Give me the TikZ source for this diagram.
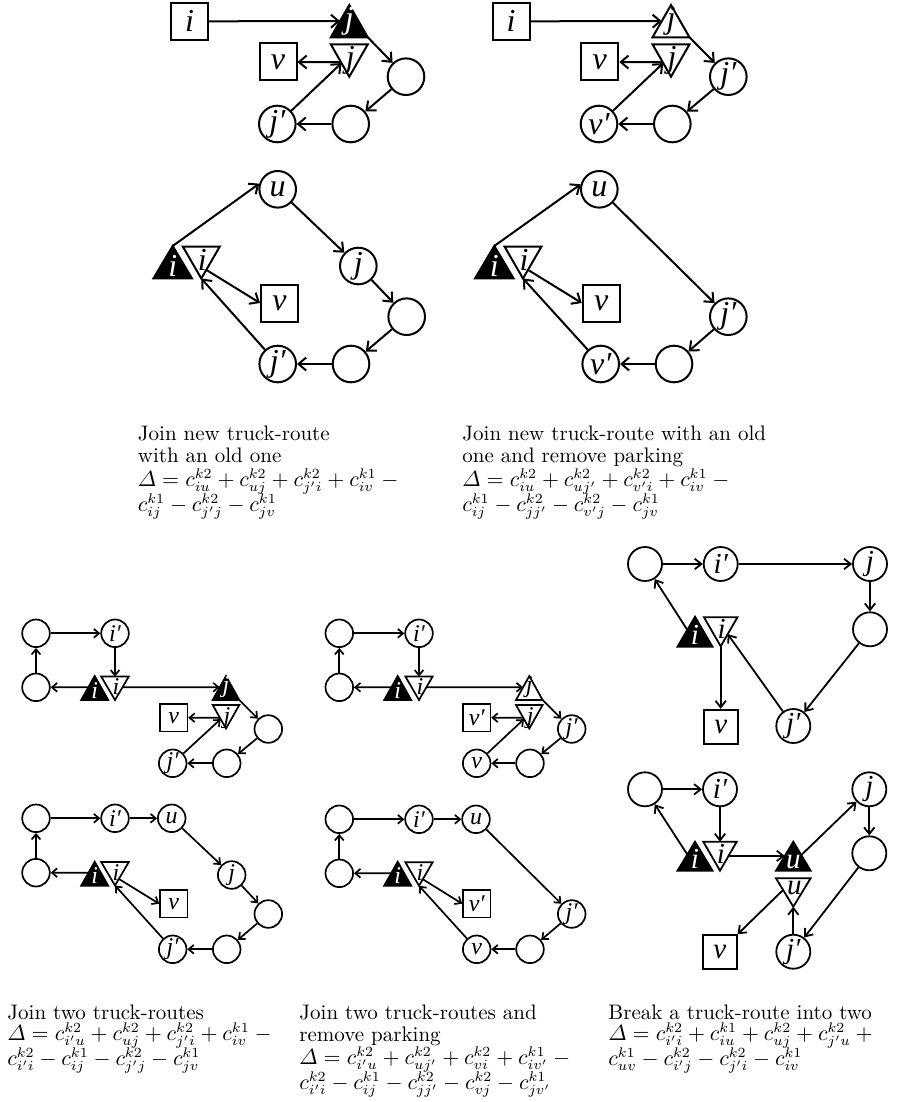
\documentclass[tikz,border=0pt]{standalone}
\usepackage{amsmath}
\usepackage{fontspec}
\usetikzlibrary{arrows.meta,calc}
\newfontfamily\tnr{Liberation Serif}
\newcommand\uptri[8]{%
  \coordinate (#1-t) at (#2,#3);
  \coordinate (#1-l) at (#2-#4,#3+#5);
  \coordinate (#1-r) at (#2+#4,#3+#5);
  \filldraw[#6] (#1-t) -- (#1-l) -- (#1-r) -- cycle;
  \node[anchor=south,#7] (#1) at (#2,#3+#5-1.5) {#8};}
\newcommand\dntri[8]{%
  \coordinate (#1-l) at (#2-#4,#3);
  \coordinate (#1-r) at (#2+#4,#3);
  \coordinate (#1-b) at (#2,#3+#5);
  \coordinate (#1-m) at (#2,#3);
  \filldraw[#6] (#1-l) -- (#1-r) -- (#1-b) -- cycle;
  \node[anchor=north,#7] (#1) at (#2+1,#3+2) {#8};}
\tikzset{
  every node/.style={inner sep=0pt},
  lbB/.style={font=\tnr\itshape\fontsize{16}{16}\selectfont},
  lbM/.style={font=\tnr\itshape\fontsize{14.5}{14.5}\selectfont},
  lbS/.style={font=\tnr\itshape\fontsize{12}{12}\selectfont},
  bc/.style={circle, draw, line width=1pt, minimum size=18.3pt, lbB},
  bs/.style={rectangle, draw, line width=1pt, minimum size=18.5pt, lbB},
  mc/.style={circle, draw, line width=0.9pt, minimum size=17pt, lbM},
  ms/.style={rectangle, draw, line width=0.9pt, minimum size=17pt, lbM},
  sc/.style={circle, draw, line width=0.85pt, minimum size=13.8pt, lbS},
  ss/.style={rectangle, draw, line width=0.85pt, minimum size=13.7pt, lbS},
  bk/.style={fill=black, draw=black, line width=1pt},
  wt/.style={fill=white, draw=black, line width=1pt},
  arr/.style={line width=1pt, -{Straight Barb[length=3.8pt,width=6.5pt]}},
  marr/.style={line width=0.9pt, -{Straight Barb[length=3.3pt,width=5.2pt]}},
  sarr/.style={line width=0.85pt, -{Straight Barb[length=2.6pt,width=4.4pt]}},
  captxt/.style={anchor=base west, inner sep=0pt, font=\fontsize{10.5}{11}\selectfont},
}
\begin{document}
\begin{tikzpicture}[x=0.5pt,y=-0.5pt]
\useasboundingbox (0,0) rectangle (899,1102);

% ---------- Panel 1, top ----------
\node[bs] (a1sq) at (189.5,21.3) {i};
\uptri{a1J}{349.3}{5}{18.5}{32.3}{bk}{lbB,text=white}{j}
\dntri{a1j}{349.3}{44.3}{18.5}{32.4}{wt}{lbB}{j}
\node[bs] (a1v) at (278,62) {v};
\node[bc] (a1c1) at (406,76.7) {};
\node[bc] (a1c2) at (350.7,124) {};
\node[bc] (a1jp) at (277.3,124) {j′};
\draw[arr] (a1sq) -- ($(a1J-t)!0.5!(a1J-l)$);
\draw[arr] (a1J-r) -- (a1c1);
\draw[arr] (a1c1) -- (a1c2);
\draw[arr] (a1c2) -- (a1jp);
\draw[arr] (a1jp) -- ($(a1j-l)!0.58!(a1j-b)$);
\draw[arr] ($(a1j-l)!0.55!(a1j-b)$) -- (a1v);

% ---------- Panel 1, bottom ----------
\node[bc] (b1u) at (277.7,189.3) {u};
\uptri{b1I}{172.7}{246}{19.2}{32.3}{bk}{lbB,text=white}{i}
\dntri{b1i}{201.3}{246.5}{18.5}{32}{wt}{lbB}{i}
\node[bs] (b1v) at (279.5,303) {v};
\node[bc] (b1j) at (358.3,266) {j};
\node[bc] (b1c1) at (406.7,316.7) {};
\node[bc] (b1c2) at (351,364) {};
\node[bc] (b1jp) at (277.7,364) {j′};
\draw[arr] (b1I-t) -- (b1u.163);
\draw[arr] (b1u) -- (b1j);
\draw[arr] (b1j) -- (b1c1);
\draw[arr] (b1c1) -- (b1c2);
\draw[arr] (b1c2) -- (b1jp);
\draw[arr] (b1jp) -- (b1i-b);
\draw[arr] ($(b1i-r)!0.73!(b1i-b)$) -- (b1v.west);

% ---------- Panel 2, top ----------
\node[bs] (a2sq) at (511,21.3) {i};
\uptri{a2J}{671}{5}{18.5}{32.3}{wt}{lbB}{j}
\dntri{a2j}{671}{44.3}{18.5}{32.4}{wt}{lbB}{j}
\node[bs] (a2v) at (599.8,62) {v};
\node[bc] (a2jp) at (728.3,76.7) {j′};
\node[bc] (a2c) at (672.3,124) {};
\node[bc] (a2vp) at (599,124) {v′};
\draw[arr] (a2sq) -- ($(a2J-t)!0.5!(a2J-l)$);
\draw[arr] (a2J-r) -- (a2jp);
\draw[arr] (a2jp) -- (a2c);
\draw[arr] (a2c) -- (a2vp);
\draw[arr] (a2vp) -- ($(a2j-l)!0.58!(a2j-b)$);
\draw[arr] ($(a2j-l)!0.55!(a2j-b)$) -- (a2v);

% ---------- Panel 2, bottom ----------
\node[bc] (b2u) at (599.3,189.3) {u};
\uptri{b2I}{494.3}{246}{19.2}{32.3}{bk}{lbB,text=white}{i}
\dntri{b2i}{523}{246.5}{18.5}{32}{wt}{lbB}{i}
\node[bs] (b2v) at (601.3,303) {v};
\node[bc] (b2jp) at (728.3,316.7) {j′};
\node[bc] (b2c) at (674,364) {};
\node[bc] (b2vp) at (600.7,364) {v′};
\draw[arr] (b2I-t) -- (b2u.165);
\draw[arr] (b2u) -- (b2jp);
\draw[arr] (b2jp) -- (b2c);
\draw[arr] (b2c) -- (b2vp);
\draw[arr] (b2vp) -- (b2i-b);
\draw[arr] ($(b2i-r)!0.73!(b2i-b)$) -- (b2v.west);

% ---------- Captions, top ----------
\node[captxt] (t1a) at (137.5,440) {Join new truck-route};
\node[captxt] (t1b) at (137.5,462) {with an old one};
\node[captxt] (t1c) at (137.5,486) {$\varDelta = c^{k2}_{iu} + c^{k2}_{uj} + c^{k2}_{j'i} + c^{k1}_{iv} - {}$};
\node[captxt] (t1d) at (137.5,511) {$c^{k1}_{ij} - c^{k2}_{j'j} - c^{k1}_{jv}$};
\node[captxt] (t2a) at (462,440) {Join new truck-route with an old};
\node[captxt] (t2b) at (462,462) {one and remove parking};
\node[captxt] (t2c) at (462,486) {$\varDelta = c^{k2}_{iu} + c^{k2}_{uj'} + c^{k2}_{v'i} + c^{k1}_{iv} - {}$};
\node[captxt] (t2d) at (462,511) {$c^{k1}_{ij} - c^{k2}_{jj'} - c^{k2}_{v'j} - c^{k1}_{jv}$};

% ---------- Left column, top ----------
\node[sc] (c1A) at (36,633.3) {};
\node[sc] (c1ip) at (115,633.3) {i′};
\node[sc] (c1B) at (36,687.3) {};
\uptri{c1I}{94.7}{676}{13.5}{24}{bk,line width=0.85pt}{lbS,text=white}{i}
\dntri{c1i}{115}{676.5}{13.8}{23.5}{wt,line width=0.85pt}{lbS}{i}
\uptri{c1J}{226}{676}{13.3}{24}{bk,line width=0.85pt}{lbS,text=white}{j}
\dntri{c1j}{226}{705}{13.3}{23.5}{wt,line width=0.85pt}{lbS}{j}
\node[ss] (c1v) at (173.7,717.7) {v};
\node[sc] (c1C) at (268.3,729) {};
\node[sc] (c1D) at (226.7,763.3) {};
\node[sc] (c1jp) at (172.7,763.3) {j′};
\draw[sarr] (c1A) -- (c1ip);
\draw[sarr] (c1ip) -- (c1i-m);
\draw[sarr] (c1B) -- (c1A);
\draw[sarr] ($(c1I-t)!0.47!(c1I-l)$) -- (c1B);
\draw[sarr] ($(c1i-r)!0.46!(c1i-b)$) -- ($(c1J-t)!0.47!(c1J-l)$);
\draw[sarr] (c1J-r) -- (c1C);
\draw[sarr] (c1C) -- (c1D);
\draw[sarr] (c1D) -- (c1jp);
\draw[sarr] (c1jp) -- ($(c1j-l)!0.6!(c1j-b)$);
\draw[sarr] ($(c1j-l)!0.54!(c1j-b)$) -- (c1v);

% ---------- Left column, bottom ----------
\node[sc] (d1A) at (36,818.3) {};
\node[sc] (d1ip) at (115,818.3) {i′};
\node[sc] (d1u) at (171.7,818.3) {u};
\node[sc] (d1B) at (36,872.7) {};
\uptri{d1I}{94.7}{861.7}{13.5}{24}{bk,line width=0.85pt}{lbS,text=white}{i}
\dntri{d1i}{115}{862}{13.8}{23.5}{wt,line width=0.85pt}{lbS}{i}
\node[sc] (d1j) at (231.7,875) {j};
\node[sc] (d1E) at (268.3,914) {};
\node[sc] (d1F) at (226.7,949.3) {};
\node[sc] (d1jp) at (172.7,949.3) {j′};
\node[ss] (d1v) at (173.7,903.7) {v};
\draw[sarr] (d1A) -- (d1ip);
\draw[sarr] (d1ip) -- (d1u);
\draw[sarr] (d1u) -- (d1j);
\draw[sarr] (d1j) -- (d1E);
\draw[sarr] (d1E) -- (d1F);
\draw[sarr] (d1F) -- (d1jp);
\draw[sarr] (d1jp) -- (d1i-b);
\draw[sarr] ($(d1i-r)!0.72!(d1i-b)$) -- (d1v.west);
\draw[sarr] (d1B) -- (d1A);
\draw[sarr] ($(d1I-t)!0.46!(d1I-l)$) -- (d1B);

% ---------- Middle column, top ----------
\node[sc] (c2A) at (339.3,633.3) {};
\node[sc] (c2ip) at (419,633.3) {i′};
\node[sc] (c2B) at (339.3,687.3) {};
\uptri{c2I}{397.7}{676}{13.5}{24}{bk,line width=0.85pt}{lbS,text=white}{i}
\dntri{c2i}{419}{676.5}{13.6}{23.5}{wt,line width=0.85pt}{lbS}{i}
\uptri{c2J}{529.3}{676}{13.3}{24}{wt,line width=0.85pt}{lbS}{j}
\dntri{c2j}{529.3}{705}{13.3}{23.5}{wt,line width=0.85pt}{lbS}{j}
\node[ss] (c2v) at (476.7,717.7) {v′};
\node[sc] (c2jp) at (571.7,729) {j′};
\node[sc] (c2C) at (530,763.3) {};
\node[sc] (c2vc) at (476.7,763.3) {v};
\draw[sarr] (c2A) -- (c2ip);
\draw[sarr] (c2ip) -- (c2i-m);
\draw[sarr] (c2B) -- (c2A);
\draw[sarr] ($(c2I-t)!0.47!(c2I-l)$) -- (c2B);
\draw[sarr] ($(c2i-r)!0.46!(c2i-b)$) -- ($(c2J-t)!0.47!(c2J-l)$);
\draw[sarr] (c2J-r) -- (c2jp);
\draw[sarr] (c2jp) -- (c2C);
\draw[sarr] (c2C) -- (c2vc);
\draw[sarr] (c2vc) -- ($(c2j-l)!0.6!(c2j-b)$);
\draw[sarr] ($(c2j-l)!0.54!(c2j-b)$) -- (c2v);

% ---------- Middle column, bottom ----------
\node[sc] (d2A) at (339.3,819.3) {};
\node[sc] (d2ip) at (419,819.3) {i′};
\node[sc] (d2u) at (476,819.3) {u};
\node[sc] (d2B) at (339.3,873.3) {};
\uptri{d2I}{397.7}{861.7}{13.5}{24}{bk,line width=0.85pt}{lbS,text=white}{i}
\dntri{d2i}{419}{862.3}{13.6}{23.5}{wt,line width=0.85pt}{lbS}{i}
\node[ss] (d2v) at (476.7,903.7) {v′};
\node[sc] (d2jp) at (571.7,914) {j′};
\node[sc] (d2C) at (530,949.3) {};
\node[sc] (d2vc) at (476.7,949.3) {v};
\draw[sarr] (d2A) -- (d2ip);
\draw[sarr] (d2ip) -- (d2u);
\draw[sarr] (d2u) -- (d2jp);
\draw[sarr] (d2jp) -- (d2C);
\draw[sarr] (d2C) -- (d2vc);
\draw[sarr] (d2vc) -- (d2i-b);
\draw[sarr] ($(d2i-r)!0.72!(d2i-b)$) -- (d2v.west);
\draw[sarr] (d2B) -- (d2A);
\draw[sarr] ($(d2I-t)!0.48!(d2I-l)$) -- (d2B);

% ---------- Right column, top ----------
\node[mc] (eA) at (645,564) {};
\node[mc] (eip) at (720.7,564) {i′};
\node[mc] (ej) at (870,564) {j};
\node[mc] (eC) at (870,629.3) {};
\uptri{eI}{695}{616.7}{17.5}{30}{bk,line width=0.9pt}{lbM,text=white}{i}
\dntri{ei}{720.7}{617.3}{16.7}{29}{wt,line width=0.9pt}{lbM}{i}
\node[ms] (ev) at (720.7,726.7) {v};
\node[mc] (ejp) at (793.3,726) {j′};
\draw[marr] (eA) -- (eip);
\draw[marr] (eip) -- (ej);
\draw[marr] (ej) -- (eC);
\draw[marr] (eC) -- (ejp);
\draw[marr] (ejp) -- ($(ei-r)!0.58!(ei-b)$);
\draw[marr] (ei-b) -- (ev);
\draw[marr] ($(eI-t)!0.44!(eI-l)$) -- (eA);

% ---------- Right column, bottom ----------
\node[mc] (fA) at (645,789.3) {};
\node[mc] (fip) at (720,789.3) {i′};
\node[mc] (fj) at (869.3,789.3) {j};
\node[mc] (fC) at (869.3,853.3) {};
\uptri{fI}{695}{841.7}{17.5}{29}{bk,line width=0.9pt}{lbM,text=white}{i}
\dntri{fi}{720}{841.7}{16.7}{29}{wt,line width=0.9pt}{lbM}{i}
\uptri{fU}{793.3}{841.7}{17.3}{29}{bk,line width=0.9pt}{lbM,text=white}{u}
\dntri{fu}{793.3}{878.3}{17.3}{28.4}{wt,line width=0.9pt}{lbM}{u}
\node[ms] (fv) at (719.7,951.7) {v};
\node[mc] (fjp) at (793.3,951.7) {j′};
\draw[marr] (fA) -- (fip);
\draw[marr] (fip) -- (fi-m);
\draw[marr] ($(fi-r)!0.49!(fi-b)$) -- ($(fU-t)!0.49!(fU-l)$);
\draw[marr] ($(fU-t)!0.46!(fU-r)$) -- (fj);
\draw[marr] (fj) -- (fC);
\draw[marr] (fC) -- (fjp);
\draw[marr] (fjp) -- (fu-b);
\draw[marr] ($(fu-l)!0.41!(fu-b)$) -- (fv);
\draw[marr] ($(fI-t)!0.44!(fI-l)$) -- (fA);

% ---------- Captions, bottom ----------
\node[captxt] (u1a) at (7,1019) {Join two truck-routes};
\node[captxt] (u1b) at (7,1040) {$\varDelta = c^{k2}_{i'u} + c^{k2}_{uj} + c^{k2}_{j'i} + c^{k1}_{iv} - {}$};
\node[captxt] (u1c) at (7,1065) {$c^{k2}_{i'i} - c^{k1}_{ij} - c^{k2}_{j'j} - c^{k1}_{jv}$};
\node[captxt] (u2a) at (299,1019) {Join two truck-routes and};
\node[captxt] (u2b) at (299,1041) {remove parking};
\node[captxt] (u2c) at (299,1064) {$\varDelta = c^{k2}_{i'u} + c^{k2}_{uj'} + c^{k2}_{vi} + c^{k1}_{iv'} - {}$};
\node[captxt] (u2d) at (299,1089) {$c^{k2}_{i'i} - c^{k1}_{ij} - c^{k2}_{jj'} - c^{k2}_{vj} - c^{k1}_{jv'}$};
\node[captxt] (u3a) at (608,1019) {Break a truck-route into two};
\node[captxt] (u3b) at (608,1040) {$\varDelta = c^{k2}_{i'i} + c^{k1}_{iu} + c^{k2}_{uj} + c^{k2}_{j'u} + {}$};
\node[captxt] (u3c) at (608,1065) {$c^{k1}_{uv} - c^{k2}_{i'j} - c^{k2}_{j'i} - c^{k1}_{iv}$};
\end{tikzpicture}
\end{document}
